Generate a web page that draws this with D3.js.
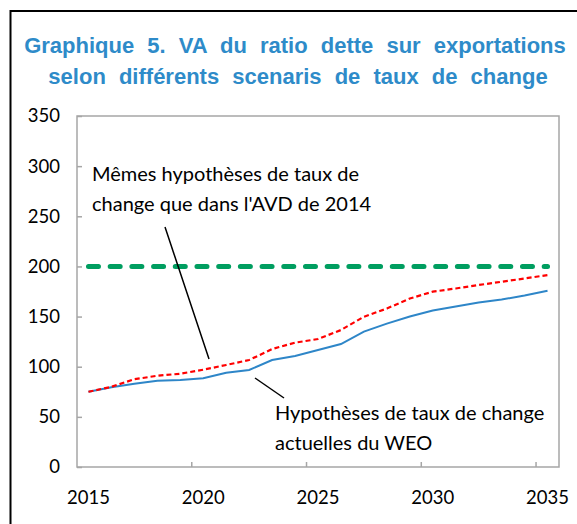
<!DOCTYPE html>
<html lang="fr">
<head>
<meta charset="UTF-8" />
<title>Graphique 5</title>
<script src="https://d3js.org/d3.v7.min.js"></script>
<style>
  body { margin: 0; background: #fff; }
  svg { display: block; }
  .title { font-family: 'Liberation Sans', Arial, sans-serif; font-weight: bold; font-size: 22px; fill: #2e8bc9; word-spacing: 7px; }
  .lab { font-family: Lato, 'Open Sans', sans-serif; font-size: 20px; fill: #000; }
  .axis text { font-family: Lato, 'Open Sans', sans-serif; font-size: 18.5px; fill: #000; }
  .axis path, .axis line { stroke: #a6a6a6; stroke-width: 1.5; }
</style>
</head>
<body>
<svg id="chart" width="577" height="524"></svg>
<script>
// data
const years = d3.range(2015, 2036);
const weo = [75, 79.5, 83, 86, 86.7, 88.5, 94, 96.7, 106.7, 110.7, 116.6, 122.6, 135, 143, 150, 156, 160, 164, 167, 171, 175.8];
const avd2014 = [75, 80, 87.5, 91, 93, 97, 101.7, 106.7, 117.6, 124, 127.6, 136.6, 149.8, 158, 168, 174.8, 178, 181.5, 184.7, 188, 191.4];
const threshold = years.map(() => 200);
const yTicks = [0, 50, 100, 150, 200, 250, 300, 350];
const xLabels = [2015, 2020, 2025, 2030, 2035];
const titleLines = ["Graphique 5. VA du ratio dette sur exportations", "selon différents scenaris de taux de change"];

const svg = d3.select("#chart");

// outer frame
svg.append("rect").attr("x", 10.5).attr("y", 11).attr("width", 600).attr("height", 600)
  .attr("fill", "none").attr("stroke", "#000").attr("stroke-width", 2);

// title
svg.selectAll(".title").data(titleLines).enter().append("text")
  .attr("class", "title")
  .attr("x", (d, i) => i ? 298 : 295).attr("y", (d, i) => i ? 84 : 53)
  .attr("text-anchor", "middle")
  .text(d => d);

const pLeft = 77, pRight = 559, pTop = 116, pBottom = 467;

const x = d3.scaleBand().domain(years).range([pLeft, pRight]).padding(0);
const y = d3.scaleLinear().domain([0, 350]).range([pBottom, pTop]);
const cx = d => x(d) + x.bandwidth() / 2;

// plot area box
svg.append("rect").attr("x", pLeft).attr("y", pTop).attr("width", pRight - pLeft).attr("height", pBottom - pTop)
  .attr("fill", "none").attr("stroke", "#a6a6a6").attr("stroke-width", 1.5);

// y axis
const yAxis = svg.append("g").attr("class", "axis").attr("transform", `translate(${pLeft},0)`)
  .call(d3.axisLeft(y).tickValues(yTicks).tickSizeInner(-5).tickSizeOuter(0).tickPadding(17));
yAxis.select(".domain").remove();

// x axis ticks at category boundaries
const xg = svg.append("g").attr("class", "axis");
xg.selectAll("line").data(xLabels.slice(1)).enter().append("line")
  .attr("x1", d => x(d)).attr("x2", d => x(d))
  .attr("y1", pBottom).attr("y2", pBottom - 5);
xg.selectAll("text").data(xLabels).enter().append("text")
  .attr("x", d => cx(d)).attr("y", 504)
  .attr("text-anchor", "middle")
  .text(d => d);

// series
const line = d3.line().x((d, i) => cx(years[i])).y(d => y(d));

svg.append("path").datum(threshold).attr("d", line)
  .attr("fill", "none").attr("stroke", "#009e60").attr("stroke-width", 5)
  .attr("stroke-linecap", "round").attr("stroke-dasharray", "10,11.7");

svg.append("path").datum(weo).attr("d", line)
  .attr("fill", "none").attr("stroke", "#2e86c8").attr("stroke-width", 2);

svg.append("path").datum(avd2014).attr("d", line)
  .attr("fill", "none").attr("stroke", "#ff0000").attr("stroke-width", 2.2)
  .attr("stroke-dasharray", "5,3");

// annotations
const notes = [
  { lines: ["Mêmes hypothèses de taux de", "change que dans l'AVD de 2014"], x: 92, y: 181, from: [165, 227], to: [209, 359] },
  { lines: ["Hypothèses de taux de change", "actuelles du WEO"], x: 275, y: 420, from: [255, 378], to: [284, 398] }
];
notes.forEach(n => {
  svg.append("line").attr("x1", n.from[0]).attr("y1", n.from[1]).attr("x2", n.to[0]).attr("y2", n.to[1])
    .attr("stroke", "#000").attr("stroke-width", 1.5);
  svg.selectAll(null).data(n.lines).enter().append("text")
    .attr("class", "lab").attr("x", n.x).attr("y", (d, i) => n.y + i * 30)
    .text(d => d);
});
</script>
</body>
</html>
